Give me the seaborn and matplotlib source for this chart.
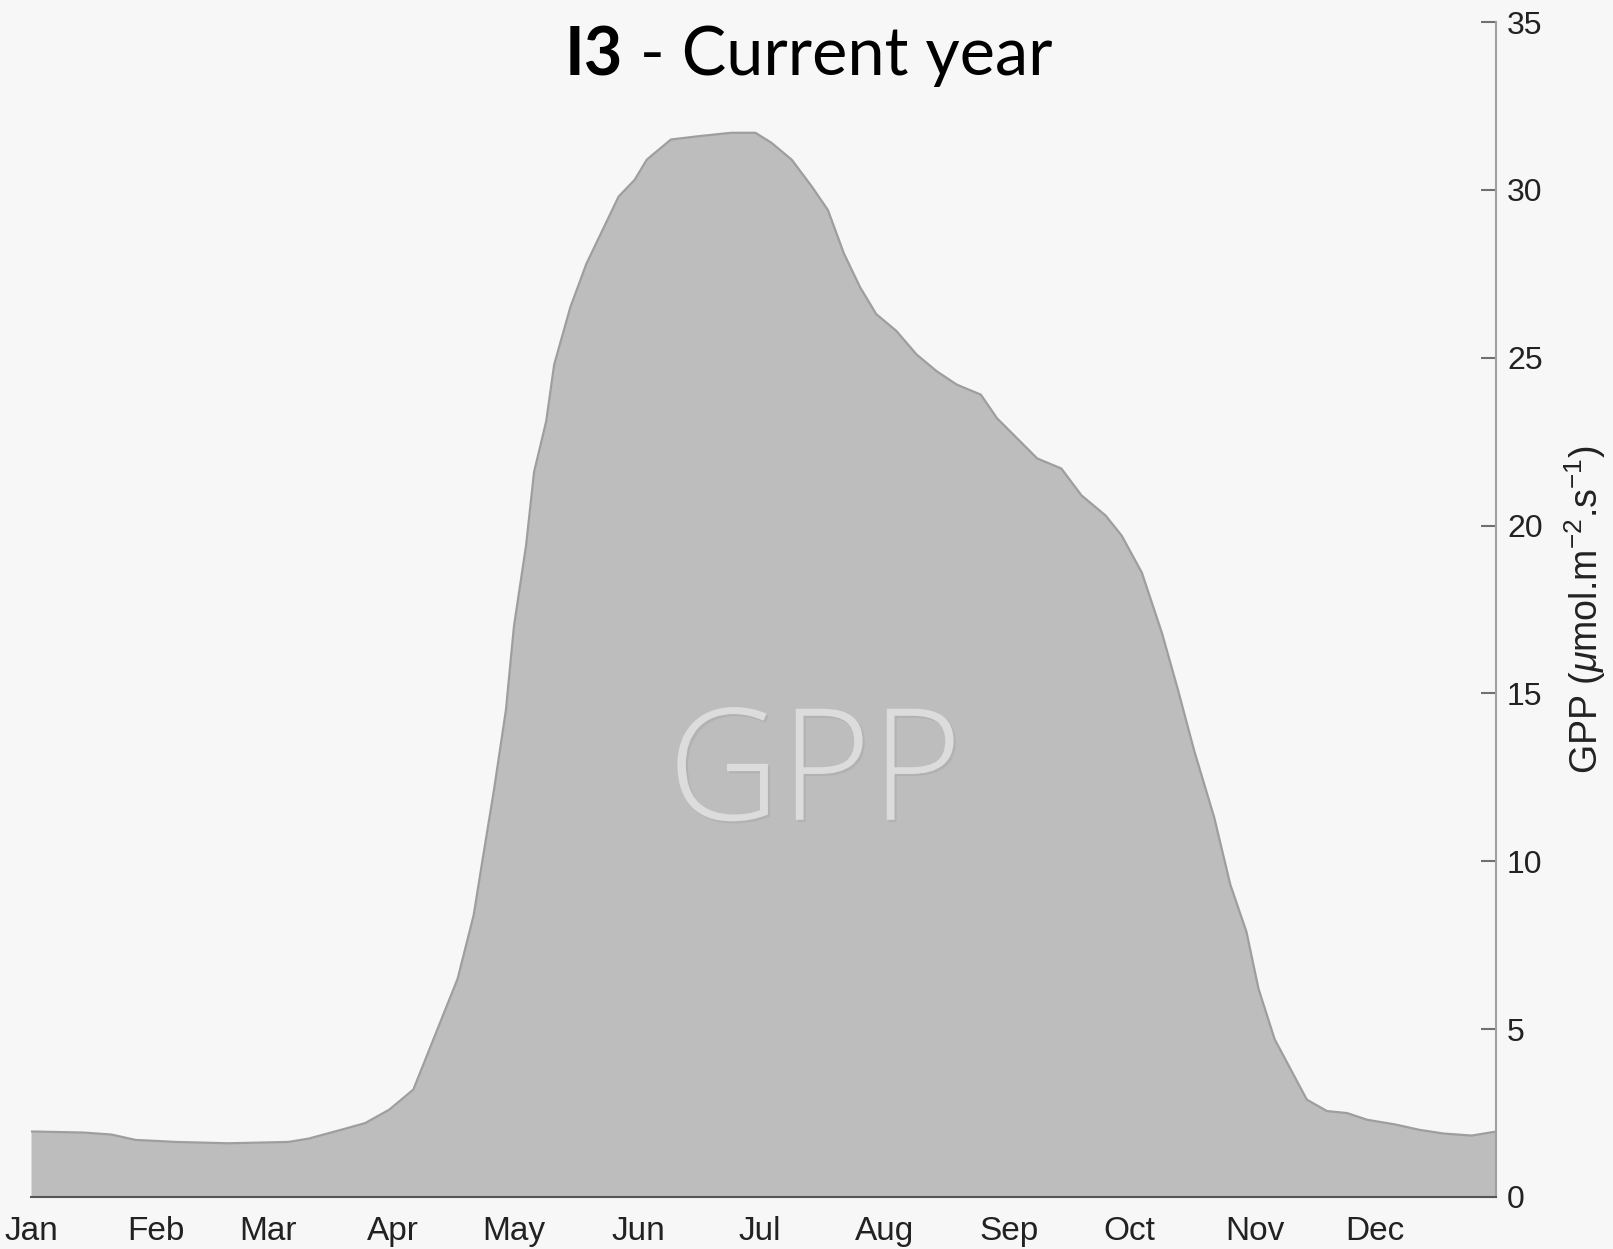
import matplotlib
matplotlib.use("Agg")
import matplotlib.pyplot as plt
import matplotlib.patheffects as pe
import pandas as pd
import seaborn as sns

# Daily GPP over the current year (day of year, umol m-2 s-1)
day_of_year = [1, 2, 14, 21, 27, 37, 50, 65, 70, 78, 84, 90, 96, 99, 103, 107,
               111, 113, 116, 119, 121, 124, 126, 129, 131, 135, 139, 143, 147,
               151, 154, 160, 167, 175, 181, 185, 190, 195, 199, 203, 207, 211,
               216, 221, 226, 231, 237, 241, 246, 251, 257, 262, 268, 272, 277,
               282, 286, 290, 295, 299, 303, 306, 310, 314, 318, 323, 328, 333,
               340, 346, 352, 359, 365]
gpp = [1.95, 1.95, 1.92, 1.86, 1.70, 1.64, 1.60, 1.64, 1.74, 2.00, 2.20, 2.60,
       3.20, 4.10, 5.30, 6.50, 8.40, 9.90, 12.1, 14.5, 17.0, 19.4, 21.6, 23.1,
       24.8, 26.5, 27.8, 28.8, 29.8, 30.3, 30.9, 31.5, 31.6, 31.7, 31.7, 31.4,
       30.9, 30.1, 29.4, 28.1, 27.1, 26.3, 25.8, 25.1, 24.6, 24.2, 23.9, 23.2,
       22.6, 22.0, 21.7, 20.9, 20.3, 19.7, 18.6, 16.8, 15.1, 13.3, 11.3, 9.3,
       7.9, 6.2, 4.7, 3.8, 2.9, 2.56, 2.5, 2.3, 2.16, 2.0, 1.89, 1.83, 1.95]

month_labels = ["Jan", "Feb", "Mar", "Apr", "May", "Jun",
                "Jul", "Aug", "Sep", "Oct", "Nov", "Dec"]
month_start_day = [1, 32, 60, 91, 121, 152, 182, 213, 244, 274, 305, 335]
y_ticks = [0, 5, 10, 15, 20, 25, 30, 35]

sns.set_theme(style="white")
plt.rcParams["font.family"] = ["Liberation Sans", "DejaVu Sans"]
plt.rcParams["mathtext.fontset"] = "custom"
plt.rcParams["mathtext.rm"] = "Liberation Sans"
plt.rcParams["mathtext.it"] = "Liberation Sans:italic"

bg = "#f7f7f7"
W, H = 1613, 1249
fig = plt.figure(figsize=(W / 100, H / 100), dpi=100, facecolor=bg)
ax = fig.add_axes([31 / W, 1 - 1197 / H, (1496 - 31) / W, (1197 - 22) / H])
ax.set_facecolor(bg)

df = pd.DataFrame({"day": day_of_year, "gpp": gpp})
ax.fill_between(df["day"], df["gpp"], 0, color="#bdbdbd", linewidth=0, zorder=1)
sns.lineplot(data=df, x="day", y="gpp", ax=ax, color="#9e9e9e",
             linewidth=1.6, zorder=2)

ax.set_xlim(1, 365)
ax.set_ylim(0, 35)

# axes frame: bottom and right only
for side in ["top", "left"]:
    ax.spines[side].set_visible(False)
ax.spines["bottom"].set_color("#555555")
ax.spines["bottom"].set_linewidth(1.5)
ax.spines["right"].set_color("#a0a0a0")
ax.spines["right"].set_linewidth(1.5)

ax.set_xticks(month_start_day)
ax.set_xticklabels(month_labels)
ax.tick_params(axis="x", length=0, pad=14, labelsize=24, labelcolor="#222222")

ax.yaxis.tick_right()
ax.yaxis.set_label_position("right")
ax.set_yticks(y_ticks)
ax.set_yticklabels([str(v) for v in y_ticks])
ax.tick_params(axis="y", direction="in", length=11, width=1.5, color="#707070",
               pad=8, labelsize=23, labelcolor="#222222", left=False, right=True)
ax.set_xlabel("")
ax.set_ylabel(r"GPP ($\mu$mol.m$^{-2}$.s$^{-1}$)", fontsize=27,
              color="#222222", labelpad=14)

# watermark label inside the area
ax.text(0.535, 0.321, "GPP", transform=ax.transAxes, ha="center", va="baseline",
        fontsize=112, color="#dcdcdc", family=["Open Sans", "DejaVu Sans"],
        fontweight=300, zorder=3,
        path_effects=[pe.SimplePatchShadow(offset=(1.5, -1.5),
                                           shadow_rgbFace="#a5a5a5", alpha=0.45),
                      pe.Normal()])

# title: bold station code followed by regular text, centred on the figure
fig.canvas.draw()
renderer = fig.canvas.get_renderer()
t_bold = fig.text(0, 1 - 75 / H, "I3", fontsize=48, fontweight="bold",
                  family=["Lato", "DejaVu Sans"], color="black", va="baseline")
t_rest = fig.text(0, 1 - 75 / H, " - Current year", fontsize=48,
                  family=["Lato", "DejaVu Sans"], color="black", va="baseline")
wb = t_bold.get_window_extent(renderer).width
wr = t_rest.get_window_extent(renderer).width
x0 = (W - (wb + wr)) / 2 + 2
t_bold.set_x(x0 / W)
t_rest.set_x((x0 + wb) / W)

fig.savefig("out.png", dpi=100, facecolor=bg)
